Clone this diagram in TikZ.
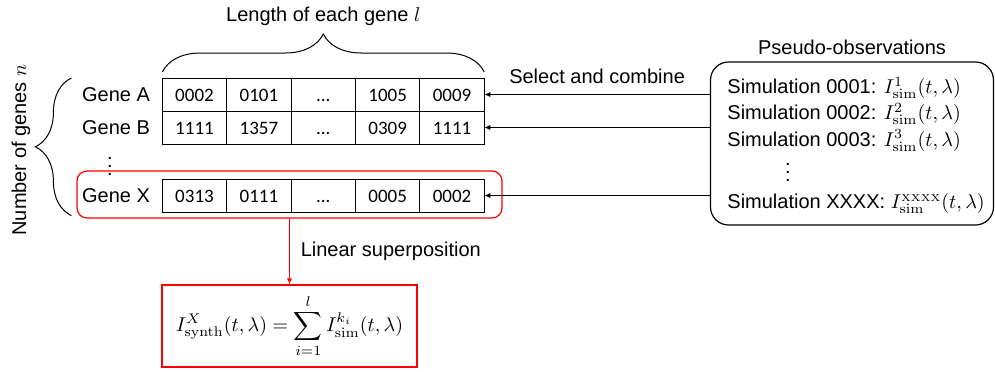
\documentclass[tikz,border=0pt]{standalone}
\usepackage{amsmath}
\usepackage[no-math]{fontspec}
\setmainfont{Liberation Sans}
\newfontfamily\cellfont{Carlito}
\usetikzlibrary{arrows.meta,positioning,decorations.pathreplacing,calc,fit}

\begin{document}
\begin{tikzpicture}[x=0.5pt, y=-0.5pt, >={Latex[length=3pt,width=2.6pt]},
    font=\fontsize{10}{12}\selectfont,
    cell/.style={draw, line width=0.5pt, minimum width=32.2pt, minimum height=16.5pt,
        text height=6.6pt, text depth=0pt,
        inner sep=0pt, outer sep=0pt, font=\cellfont\fontsize{9.5}{11}\selectfont},
    gene/.style={inner sep=2pt},
    sim/.style={anchor=base west, inner sep=0pt},
    brace/.style={decorate, line width=0.5pt},
    selbox/.style={draw=red, line width=0.6pt, rounded corners=5pt, inner sep=0pt},
    obsbox/.style={draw, line width=0.6pt, rounded corners=9pt, minimum width=141.5pt, minimum height=81.5pt},
    fbox/.style={draw=red, line width=0.6pt, minimum width=127.5pt, minimum height=41pt}]
    \useasboundingbox (0,0) rectangle (995,371);
    % gene table
    \node[cell] (a1) at (194.5,94.5) {0002};
    \node[cell, right=0pt of a1] (a2) {0101};
    \node[cell, right=0pt of a2] (a3) {...};
    \node[cell, right=0pt of a3] (a4) {1005};
    \node[cell, right=0pt of a4] (a5) {0009};
    \node[cell, below=0pt of a1] (b1) {1111};
    \node[cell, right=0pt of b1] (b2) {1357};
    \node[cell, right=0pt of b2] (b3) {...};
    \node[cell, right=0pt of b3] (b4) {0309};
    \node[cell, right=0pt of b4] (b5) {1111};
    \node[cell] (x1) at (194.5,195.5) {0313};
    \node[cell, right=0pt of x1] (x2) {0111};
    \node[cell, right=0pt of x2] (x3) {...};
    \node[cell, right=0pt of x3] (x4) {0005};
    \node[cell, right=0pt of x4] (x5) {0002};
    \node[gene, left=4pt of a1] (ga) {Gene A};
    \node[gene, left=4pt of b1] (gb) {Gene B};
    \node[gene, left=4pt of x1] (gx) {Gene X};
    \node[inner sep=0pt] (gdots) at (110,160) {$\vdots$};
    \node[selbox, fit={(77,171) (502,218)}] (sel) {};
    % braces
    \draw[brace, decoration={brace, amplitude=19pt}]
        ($(a1.north west)+(0,-6)$) -- ($(a5.north east)+(0,-6)$)
        node[midway, above=19.5pt] (lenlbl) {Length of each gene $l$};
    \draw[brace, decoration={brace, amplitude=18pt}]
        ($(sel.south west)+(-5,-3)$) -- ($(sel.west |- a1.north)+(-5,0)$);
    \node[rotate=90] (numlbl) at (21,150) {Number of genes $n$};
    % pseudo-observations
    \node[obsbox] (obs) at (852,143.5) {};
    \node[above=0pt of obs] (obslbl) {Pseudo-observations};
    \node[sim] (s1) at (727,93.3) {Simulation 0001: $I_{\mathrm{sim}}^{1}(t,\lambda)$};
    \node[sim] (s2) at (727,119.3) {Simulation 0002: $I_{\mathrm{sim}}^{2}(t,\lambda)$};
    \node[sim] (s3) at (727,146) {Simulation 0003: $I_{\mathrm{sim}}^{3}(t,\lambda)$};
    \node[inner sep=0pt] (sdots) at (788,166) {$\vdots$};
    \node[sim] (sx) at (727,208.3) {Simulation XXXX: $I_{\mathrm{sim}}^{\scriptscriptstyle\mathrm{XXXX}}(t,\lambda)$};
    \draw[->, line width=0.5pt] (obs.west |- a5.east) -- node[midway, above=2pt] (combl) {Select and combine} (a5.east);
    \draw[->, line width=0.5pt] (obs.west |- b5.east) -- (b5.east);
    \draw[->, line width=0.5pt] (obs.west |- x5.east) -- (x5.east);
    % synthetic observation
    \node[fbox] (form) at (289.5,326)
        {$\displaystyle I_{\mathrm{synth}}^{X}(t,\lambda)=\sum_{i=1}^{l} I_{\mathrm{sim}}^{k_i}(t,\lambda)$};
    \draw[->, red, line width=0.6pt] (sel.south) -- node[midway, right=2pt, text=black] (linlbl) {Linear superposition} (form.north);
\end{tikzpicture}
\end{document}
